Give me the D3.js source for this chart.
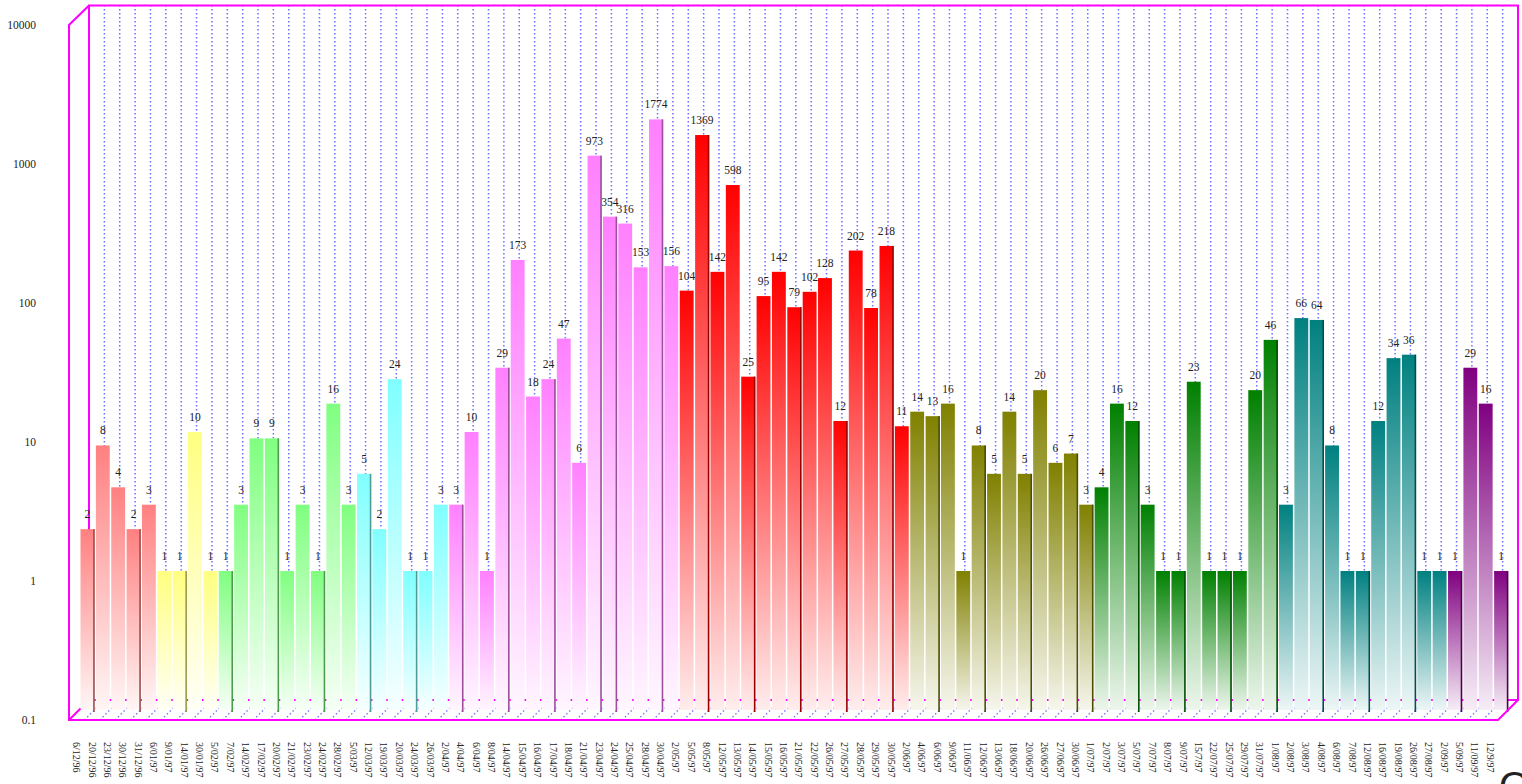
<!DOCTYPE html>
<html>
<head>
<meta charset="utf-8">
<script src="https://cdn.jsdelivr.net/npm/d3@7"></script>
<style>
  body { margin: 0; background: #fff; }
  svg text { font-family: "Liberation Serif", "DejaVu Serif", serif; fill: #222; }
</style>
</head>
<body>
<div id="chart"></div>
<script>
// dates (x categories) and counts per date
var dates = ["6/12/96","20/12/96","23/12/96","30/12/96","31/12/96",
  "6/01/97","9/01/97","14/01/97","30/01/97",
  "5/02/97","7/02/97","14/02/97","17/02/97","20/02/97","21/02/97","23/02/97","24/02/97","28/02/97",
  "5/03/97","12/03/97","19/03/97","20/03/97","24/03/97","26/03/97",
  "2/04/97","4/04/97","6/04/97","8/04/97","14/04/97","15/04/97","16/04/97","17/04/97","18/04/97",
  "21/04/97","23/04/97","24/04/97","25/04/97","28/04/97","30/04/97",
  "2/05/97","5/05/97","8/05/97","12/05/97","13/05/97","14/05/97","15/05/97","16/05/97","21/05/97",
  "22/05/97","26/05/97","27/05/97","28/05/97","29/05/97","30/05/97",
  "2/06/97","4/06/97","6/06/97","9/06/97","11/06/97","12/06/97","13/06/97","18/06/97","20/06/97",
  "26/06/97","27/06/97","30/06/97",
  "1/07/97","2/07/97","3/07/97","5/07/97","7/07/97","8/07/97","9/07/97","15/7/97","22/07/97",
  "25/07/97","29/07/97","31/07/97",
  "1/08/97","2/08/97","3/08/97","4/08/97","6/08/97","7/08/97","12/08/97","16/08/97","19/08/97",
  "26/08/97","27/08/97",
  "2/09/97","5/09/97","11/09/97","12/9/97"];

var counts = [2,8,4,2,3,
  1,1,10,1,
  1,3,9,9,1,3,1,16,3,
  5,2,24,1,1,3,
  3,10,1,29,173,18,24,47,6,
  973,354,316,153,1774,156,
  104,1369,142,598,25,95,142,79,102,
  128,12,202,78,218,11,
  14,13,16,1,8,5,14,5,20,
  6,7,3,
  4,16,12,3,1,1,23,1,1,
  1,20,46,
  3,66,64,8,1,1,12,34,36,
  1,1,
  1,29,16,1];

var yTicks = [0.1, 1, 10, 100, 1000, 10000];

// one colour per month
var monthColors = {12: "#ff8080", 1: "#ffff80", 2: "#80ff80", 3: "#80ffff", 4: "#ff80ff",
  5: "#ff0000", 6: "#808000", 7: "#008000", 8: "#008080", 9: "#800080"};

var W = 1522, H = 784;
var depth = 20;          // back wall offset
var mid = depth / 2;     // bars sit halfway in

var svg = d3.select("#chart").append("svg")
  .attr("width", W)
  .attr("height", H);

var xScale = d3.scaleBand().domain(dates).range([69, 1498]);
var yScale = d3.scaleLog().domain([0.1, 10000]).range([720, 25]);
var bw = xScale.bandwidth();

function month(d) { return +d.split("/")[1]; }
function color(i) { return monthColors[month(dates[i])]; }

// gradients, one per month
var defs = svg.append("defs");
Object.keys(monthColors).forEach(function(m) {
  var c = monthColors[m];
  var g = defs.append("linearGradient")
    .attr("id", "grad" + m)
    .attr("x1", 0).attr("y1", 0).attr("x2", 0).attr("y2", 1);
  g.append("stop").attr("offset", "0%").attr("stop-color", c);
  g.append("stop").attr("offset", "100%").attr("stop-color", d3.interpolateRgb(c, "#fff")(0.93));
});

var magenta = "#ff00ff";
var gridBlue = "#6f6fff";

// back wall vertical dotted grid
var bounds = dates.slice(1);
svg.append("g")
  .selectAll("line")
  .data(bounds)
  .enter().append("line")
  .attr("x1", function(d) { return xScale(d) + depth; })
  .attr("x2", function(d) { return xScale(d) + depth; })
  .attr("y1", 5)
  .attr("y2", yScale(0.1) - depth)
  .attr("stroke", gridBlue)
  .attr("stroke-width", 1.5)
  .attr("stroke-dasharray", "1.5,2.5");

// floor dotted diagonals
svg.append("g")
  .selectAll("line")
  .data(bounds)
  .enter().append("line")
  .attr("x1", function(d) { return xScale(d); })
  .attr("x2", function(d) { return xScale(d) + depth; })
  .attr("y1", yScale(0.1))
  .attr("y2", yScale(0.1) - depth)
  .attr("stroke", gridBlue)
  .attr("stroke-width", 1.3)
  .attr("stroke-dasharray", "1.5,2.5");

// back wall frame
var x0 = xScale.range()[0], x1 = xScale.range()[1];
var yTop = yScale(10000), yBot = yScale(0.1);
svg.append("path")
  .attr("d", "M" + (x0 + depth) + "," + (yBot - depth) + "V" + (yTop - depth + 0.5) +
    "H" + (x1 + depth) + "V" + (yBot - depth) + "H" + (x0 + depth))
  .attr("fill", "none")
  .attr("stroke", magenta)
  .attr("stroke-width", 2);

// value labels sit behind the bars
svg.append("g")
  .selectAll("text")
  .data(counts)
  .enter().append("text")
  .attr("x", function(d, i) { return xScale(dates[i]) + mid + bw / 2 + 0.75; })
  .attr("y", function(d) { return yScale(d) - mid - 11; })
  .attr("text-anchor", "middle")
  .style("font-size", "11.5px")
  .text(function(d) { return d; });

// bars
svg.append("g")
  .selectAll("rect")
  .data(counts)
  .enter().append("rect")
  .attr("x", function(d, i) { return xScale(dates[i]) + mid + 1.5; })
  .attr("y", function(d) { return yScale(d) - mid; })
  .attr("width", bw - 1.5)
  .attr("height", function(d) { return yScale(0.1) - yScale(d); })
  .attr("fill", function(d, i) { return "url(#grad" + month(dates[i]) + ")"; });

// dark side edge shows on every third bar (pixel phase drifts along the axis)
function hasSide(i) {
  var phase = i < 34 ? 0 : (i < 65 ? 1 : 2);
  return i % 3 === phase;
}
var sides = counts.map(function(d, i) { return {v: d, i: i}; })
  .filter(function(d) { return hasSide(d.i); });

svg.append("g")
  .selectAll("rect")
  .data(sides)
  .enter().append("rect")
  .attr("x", function(d) { return xScale(dates[d.i]) + mid + bw - 1.2; })
  .attr("y", function(d) { return yScale(d.v) - mid; })
  .attr("width", 1.6)
  .attr("height", function(d) { return yScale(0.1) - yScale(d.v) + 2; })
  .attr("fill", function(d) { return d3.color(color(d.i)).darker(1.4); });

// front frame: left edge, top bevel, floor edges
svg.append("path")
  .attr("d", "M" + (x0 + depth) + "," + (yTop - depth + 0.5) + "L" + x0 + "," + yTop +
    "V" + yBot + "H" + x1 + "L" + (x1 + depth) + "," + (yBot - depth))
  .attr("fill", "none")
  .attr("stroke", magenta)
  .attr("stroke-width", 2);
svg.append("line")
  .attr("x1", x0).attr("y1", yBot)
  .attr("x2", x0 + mid + 1.5).attr("y2", yBot - mid - 1.5)
  .attr("stroke", magenta)
  .attr("stroke-width", 2);

// y axis, labels only
var yAxis = d3.axisLeft(yScale)
  .tickValues(yTicks)
  .tickFormat(function(d) { return String(d); })
  .tickSize(0)
  .tickPadding(33);
var gY = svg.append("g")
  .attr("transform", "translate(" + x0 + ",0)")
  .call(yAxis);
gY.select(".domain").remove();
gY.selectAll("text")
  .style("font-family", "'Liberation Serif', 'DejaVu Serif', serif")
  .style("font-size", "11.5px")
  .attr("fill", "#222");

// x axis, rotated date labels
var xAxis = d3.axisBottom(xScale).tickSize(0);
var gX = svg.append("g")
  .attr("transform", "translate(0,742)")
  .call(xAxis);
gX.select(".domain").remove();
gX.selectAll("text")
  .attr("transform", "rotate(90)")
  .attr("x", 0)
  .attr("y", 0)
  .attr("dy", "0.35em")
  .style("text-anchor", "start")
  .style("font-family", "'Liberation Serif', 'DejaVu Serif', serif")
  .style("font-size", "10px")
  .attr("fill", "#222");

// stray glyph cut off at the bottom right, as in the source image
svg.append("text")
  .attr("x", 1499)
  .attr("y", 800)
  .style("font-family", "'Liberation Sans', sans-serif")
  .style("font-size", "40px")
  .text("O");
</script>
</body>
</html>
